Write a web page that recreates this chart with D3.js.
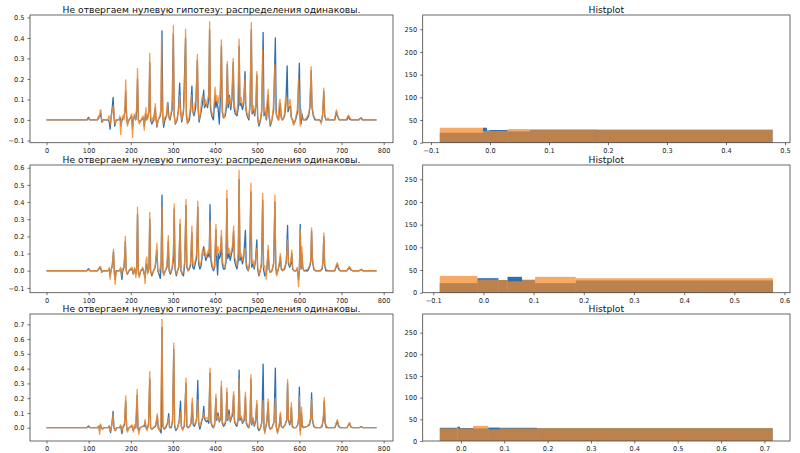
<!DOCTYPE html>
<html><head><meta charset="utf-8">
<script src="https://cdn.jsdelivr.net/npm/d3@7"></script>
<style>
body{margin:0;background:#fff;}
svg{display:block;font-family:"DejaVu Sans",sans-serif;}
</style></head><body>
<svg id="c" width="800" height="453"></svg>
<script>
// ---------- text ----------
const titleLeft = "Не отвергаем нулевую гипотезу: распределения одинаковы.";
const titleRight = "Histplot";

// ---------- tick labels ----------
const lineXTicks = [0,100,200,300,400,500,600,700,800];
const lineYTicks1 = [-0.1,0,0.1,0.2,0.3,0.4,0.5];
const lineYTicks2 = [-0.1,0,0.1,0.2,0.3,0.4,0.5,0.6];
const lineYTicks3 = [0,0.1,0.2,0.3,0.4,0.5,0.6,0.7];
const histXTicks1 = [-0.1,0,0.1,0.2,0.3,0.4,0.5];
const histXTicks2 = [-0.1,0,0.1,0.2,0.3,0.4,0.5,0.6];
const histXTicks3 = [0,0.1,0.2,0.3,0.4,0.5,0.6,0.7];
const histYTicks = [0,50,100,150,200,250];

// ---------- line series: [index, value] ----------
const row1Orange = [[0,0],[96,0],[100,0.004],[104,0],[121,0],[123,0.02],[125,0.01],[127,0.045],[129,0.05],[131,0.0],[133,-0.01],[136,0.0],[146,0.0],[148,0.02],[150,0.01],[152,-0.02],[154,0.02],[157,0.06],[159,0.07],[161,0.0],[163,-0.02],[166,0.0],[172,0.0],[174,0.02],[176,-0.072],[178,0.0],[181,0.02],[184,0.0],[186,0.05],[188,0.195],[190,0.03],[192,-0.03],[195,0.0],[199,0.01],[202,0.03],[204,-0.085],[206,0.0],[208,0.03],[211,0.0],[214,0.06],[216,0.25],[218,0.0],[220,-0.02],[224,0.0],[229,0.02],[232,-0.05],[234,0.02],[236,0.06],[238,0.0],[241,0.01],[243,0.05],[245,0.325],[247,0.02],[249,-0.01],[252,0.01],[256,0.0],[258,0.08],[260,0.01],[262,-0.03],[265,0.0],[269,0.02],[271,0.05],[273,0.40],[275,0.03],[277,-0.02],[280,0.01],[284,0.02],[287,0.085],[289,0.02],[292,0.0],[296,0.04],[299,0.10],[301,0.46],[303,0.03],[305,-0.02],[309,0.0],[313,0.04],[316,0.12],[318,0.04],[321,0.0],[325,0.05],[327,0.1],[330,0.443],[332,0.04],[334,-0.02],[338,0.01],[341,0.05],[344,0.12],[346,0.04],[349,0.03],[352,0.08],[355,0.1],[358,0.32],[360,0.06],[362,0.0],[365,0.03],[368,0.1],[371,0.12],[374,0.07],[377,0.1],[380,0.07],[383,0.11],[385,0.12],[387,0.48],[389,0.08],[391,0.04],[394,0.02],[397,0.05],[400,0.16],[402,0.09],[404,0.12],[407,0.08],[410,0.12],[412,0.11],[415,0.39],[417,0.06],[419,0.02],[422,0.01],[425,0.05],[427,0.08],[429,0.285],[431,0.08],[434,0.11],[437,0.07],[440,0.12],[443,0.30],[445,0.08],[448,0.05],[451,0.03],[454,0.08],[457,0.394],[459,0.09],[462,0.11],[465,0.07],[468,0.09],[471,0.2],[473,0.06],[476,0.03],[480,0.01],[483,0.09],[486,0.475],[488,0.04],[491,0.07],[494,0.03],[497,0.08],[499,0.236],[501,0.02],[503,-0.02],[507,0.0],[510,0.04],[513,0.34],[515,0.03],[518,0.06],[521,0.0],[523,0.08],[526,0.15],[528,0.03],[531,-0.02],[535,0.0],[538,0.06],[542,0.27],[544,0.04],[547,0.02],[550,0.0],[552,0.08],[554,0.1],[556,0.02],[559,0.0],[564,0.02],[567,0.1],[570,0.11],[572,0.05],[575,0.08],[578,0.1],[580,0.02],[583,0.0],[586,-0.025],[590,0.0],[595,0.05],[598,0.2],[600,0.03],[602,-0.03],[604,0.05],[606,0.01],[611,0.0],[617,0.01],[622,0.03],[625,0.07],[628,0.26],[630,0.07],[633,0.03],[636,0.01],[641,0.0],[648,0.0],[652,-0.02],[655,0.03],[658,0.155],[660,0.03],[663,0.0],[668,0.01],[672,0.0],[683,0.0],[686,0.03],[688,0.049],[691,0.02],[695,0.0],[711,0.0],[714,0.015],[717,0.023],[720,0.01],[724,0],[741,0],[744,0.005],[746,0.008],[749,0],[783,0]];
const row1Blue = [[0,0],[96,0],[98,0.008],[100,0.012],[103,0],[121,0],[124,0.01],[127,0.02],[129,0.03],[131,-0.01],[134,0],[146,0],[149,-0.01],[151,-0.045],[153,0.01],[156,0.06],[158,0.11],[160,0.02],[162,-0.03],[165,0],[172,0],[175,0.01],[177,-0.03],[179,0.0],[183,0.01],[186,0.04],[188,0.14],[190,0.02],[192,-0.02],[196,0],[202,0.02],[204,-0.04],[206,0],[209,0.02],[212,0],[214,0.05],[216,0.2],[218,0.0],[221,-0.01],[225,0],[230,0.01],[232,-0.03],[235,0.03],[238,0],[243,0.04],[245,0.28],[247,0.0],[250,-0.02],[254,0],[258,0.06],[260,0.0],[262,-0.035],[265,0],[270,0.02],[272,0.05],[274,0.435],[276,0.02],[278,-0.035],[281,0],[285,0.02],[288,0.085],[290,0.02],[293,0],[298,0.05],[301,0.42],[303,0.02],[306,-0.02],[310,0],[313,0.05],[316,0.18],[318,0.05],[321,-0.01],[325,0.04],[330,0.40],[332,0.02],[335,-0.015],[339,0],[342,0.05],[345,0.165],[347,0.04],[350,0.02],[354,0.06],[358,0.29],[360,0.05],[362,-0.01],[366,0.03],[370,0.08],[373,0.145],[375,0.06],[379,0.08],[382,0.06],[385,0.1],[387,0.44],[389,0.06],[392,0.02],[396,0.0],[400,0.12],[402,0.06],[404,0.09],[407,0.06],[410,-0.02],[412,0.08],[415,0.36],[417,0.04],[420,0.01],[424,0.02],[427,0.06],[429,0.27],[431,0.06],[434,0.12],[437,0.05],[440,0.1],[443,0.28],[445,0.06],[448,0.03],[452,0.02],[455,0.06],[457,0.36],[459,0.07],[462,0.08],[465,0.05],[468,0.08],[471,0.236],[473,0.05],[476,0.02],[480,0],[483,0.07],[486,0.44],[488,0.03],[491,0.05],[494,0.02],[497,0.07],[499,0.22],[501,0.01],[504,-0.03],[508,0],[511,0.05],[514,0.427],[516,0.02],[519,0.04],[522,0],[524,0.06],[526,0.12],[528,0.02],[531,-0.03],[535,0],[539,0.05],[543,0.40],[545,0.03],[548,0.01],[551,0],[553,0.06],[555,0.08],[557,0.01],[560,0],[565,0.02],[568,0.08],[571,0.264],[573,0.04],[576,0.06],[579,0.07],[581,0.01],[584,0],[587,-0.02],[591,0],[596,0.04],[600,0.277],[602,0.02],[604,-0.02],[606,0.03],[609,0.0],[617,0.0],[622,0.02],[625,0.06],[628,0.24],[630,0.06],[633,0.02],[637,0],[648,0],[652,-0.01],[655,0.02],[658,0.14],[660,0.02],[663,0],[684,0],[686,0.02],[688,0.04],[691,0.015],[695,0],[713,0],[716,0.02],[719,0.005],[722,0],[741,0],[744,0.008],[747,0.01],[750,0],[783,0]];

const row2Orange = [[0,0],[96,0],[100,0.005],[104,0],[121,0],[124,0.015],[127,0.025],[129,0.02],[131,-0.01],[134,0],[146,0],[149,0.02],[151,-0.05],[153,0.0],[156,0.03],[159,0.125],[161,-0.02],[163,-0.08],[165,-0.01],[168,0],[173,0],[176,0.02],[178,-0.03],[180,0.01],[183,0.02],[185,0.05],[187,0.20],[189,0.01],[191,-0.02],[195,0],[200,0.015],[203,0.02],[206,-0.02],[209,0.02],[212,-0.04],[214,0.03],[216,0.37],[218,-0.02],[220,-0.04],[223,0],[228,0.02],[231,0.0],[234,-0.075],[236,0.06],[238,0.08],[240,-0.02],[243,0.02],[245,0.34],[247,-0.01],[250,-0.02],[254,0],[258,0.03],[262,0.16],[264,0.0],[267,-0.01],[270,0.02],[272,0.05],[274,0.37],[276,0.0],[278,-0.03],[282,0],[286,0.03],[289,0.205],[291,0.0],[294,-0.01],[298,0.02],[301,0.1],[303,0.39],[305,0.02],[308,-0.02],[311,0],[314,0.03],[317,0.30],[319,0.01],[322,-0.02],[325,0.0],[328,0.06],[331,0.415],[333,0.03],[336,0.0],[339,0.02],[342,0.05],[345,0.26],[347,0.04],[350,0.03],[354,0.07],[356,0.1],[359,0.405],[361,0.06],[364,0.03],[367,0.05],[370,0.12],[372,0.09],[375,0.13],[378,0.08],[381,0.1],[384,0.12],[386,0.1],[388,0.29],[390,0.08],[393,0.04],[396,0.01],[399,0.03],[402,0.27],[404,0.09],[407,0.14],[410,0.1],[413,0.12],[415,0.235],[417,0.06],[420,0.03],[423,0.02],[426,0.08],[428,0.468],[430,0.1],[433,0.13],[436,0.09],[439,0.12],[441,0.14],[444,0.26],[446,0.08],[449,0.06],[452,0.03],[455,0.1],[457,0.585],[459,0.08],[462,0.1],[465,0.06],[468,0.1],[471,0.13],[473,0.05],[476,0.03],[479,0.0],[482,0.06],[485,0.51],[487,0.04],[490,0.06],[493,0.02],[496,0.07],[499,0.13],[501,0.02],[504,-0.02],[507,0],[510,0.05],[513,0.45],[515,0.02],[518,0.03],[521,-0.05],[523,0.02],[526,0.148],[528,0.02],[531,-0.01],[535,0],[539,0.05],[542,0.44],[544,0.03],[546,-0.03],[549,0],[552,0.04],[555,0.10],[557,0.02],[560,0],[565,0.02],[569,0.06],[572,0.18],[574,0.05],[577,0.03],[580,0.06],[582,0.12],[584,0.02],[587,0],[592,0],[595,0.02],[598,-0.093],[600,0.0],[602,0.24],[604,0.01],[606,0.14],[608,0.02],[611,0],[620,0.01],[624,0.03],[627,0.06],[629,0.25],[631,0.07],[634,0.02],[638,0],[650,0],[654,0.02],[656,0.06],[658,0.22],[660,0.04],[663,0.01],[668,0],[684,0],[687,0.03],[690,0.047],[693,0.02],[697,0],[713,0],[716,0.015],[719,0.025],[722,0.01],[726,0],[742,0],[745,0.004],[748,0.006],[751,0],[783,0]];
const row2Blue = [[0,0],[96,0],[98,0.008],[100,0.012],[103,0],[121,0],[124,0.01],[127,0.02],[129,0.01],[131,-0.01],[134,0],[146,0],[149,0.01],[151,-0.03],[153,0.0],[156,0.03],[159,0.11],[161,-0.01],[163,-0.05],[165,0],[173,0],[176,0.01],[179,-0.05],[181,0],[184,0.02],[187,0.17],[189,0.0],[192,-0.02],[196,0],[203,0.01],[206,-0.02],[209,0.01],[212,-0.02],[214,0.02],[216,0.33],[218,-0.01],[220,-0.03],[224,0],[229,0.01],[234,-0.04],[236,0.03],[238,0.04],[240,-0.01],[243,0.01],[245,0.3],[247,0],[250,-0.03],[254,0],[258,0.02],[262,0.12],[264,0],[267,-0.02],[270,-0.045],[272,0.04],[274,0.44],[276,0.0],[278,-0.02],[282,0],[286,0.02],[289,0.17],[291,0],[294,-0.02],[298,0.01],[301,0.06],[303,0.36],[305,0.01],[308,-0.03],[311,0],[314,0.02],[317,0.27],[319,0],[322,-0.02],[325,-0.03],[328,0.04],[331,0.38],[333,0.02],[336,0],[339,0.01],[342,0.03],[345,0.22],[347,0.02],[350,0.01],[354,0.05],[356,0.07],[359,0.37],[361,0.04],[364,0.01],[367,0.03],[370,0.1],[373,0.14],[375,0.1],[378,0.06],[381,0.08],[384,0.1],[386,0.08],[388,0.385],[390,0.06],[393,0.02],[396,0],[399,0.02],[402,0.24],[404,0.06],[406,-0.025],[408,0.1],[410,0.07],[413,0.09],[415,0.2],[417,0.04],[420,0.01],[423,0.01],[426,0.05],[428,0.42],[430,0.07],[433,0.1],[436,0.06],[439,0.1],[441,0.12],[444,0.23],[446,0.06],[449,0.03],[452,0.01],[455,0.06],[457,0.53],[459,0.06],[462,0.08],[465,0.04],[468,0.08],[472,0.235],[474,0.03],[476,0.01],[479,0],[482,0.04],[485,0.46],[487,0.02],[490,0.04],[493,0.01],[496,0.06],[499,0.18],[501,0.01],[504,-0.03],[507,0],[510,0.03],[513,0.41],[515,0.01],[518,-0.03],[521,-0.02],[523,0.01],[526,0.12],[528,0.01],[531,-0.01],[535,0],[539,0.04],[542,0.40],[544,0.02],[546,-0.02],[549,0],[552,0.03],[555,0.08],[557,0.01],[560,0],[565,0.01],[569,0.05],[572,0.264],[574,0.04],[577,0.02],[580,0.04],[582,0.1],[584,0.01],[587,0],[592,0],[595,0.01],[598,-0.05],[600,0.0],[602,0.27],[604,0.01],[606,0.1],[608,0.02],[611,0],[620,0],[624,0.02],[627,0.05],[629,0.23],[631,0.06],[634,0.01],[638,0],[650,0],[654,0.01],[656,0.05],[658,0.2],[660,0.03],[663,0],[684,0],[687,0.02],[690,0.04],[693,0.01],[697,0],[713,0],[716,0.01],[719,0.02],[722,0.005],[726,0],[742,0],[745,0.006],[748,0.008],[751,0],[783,0]];

const row3Orange = [[0,0],[96,0],[100,0.004],[104,0],[121,0],[124,0.01],[126,-0.045],[128,0.025],[130,0.0],[133,-0.01],[136,0],[146,0],[149,0.015],[152,-0.02],[155,0.02],[158,0.09],[160,0.0],[163,-0.02],[166,0],[173,0],[176,0.02],[179,-0.02],[181,0.01],[185,0.03],[188,0.215],[190,0.01],[192,-0.03],[196,0],[203,0.02],[206,-0.03],[209,0.02],[212,0],[215,0.26],[217,0.0],[219,-0.045],[222,0],[229,0.01],[232,0.02],[234,0.057],[236,0.0],[239,-0.02],[242,0.03],[245,0.38],[247,0.0],[250,-0.01],[254,0],[259,0.02],[263,0.095],[265,0],[268,-0.02],[271,0.03],[274,0.733],[276,0.02],[279,-0.01],[283,0.01],[287,0.03],[290,0.07],[292,0.0],[296,0.01],[299,0.05],[302,0.573],[304,0.02],[307,-0.01],[311,0],[315,0.04],[318,0.105],[320,0.01],[323,-0.02],[327,0.02],[331,0.336],[333,0.02],[336,0],[340,0.01],[343,0.04],[346,0.2],[348,0.03],[351,0.02],[354,0.04],[356,0.05],[359,0.19],[361,0.04],[364,0.01],[368,0.05],[371,0.08],[373,0.1],[375,0.07],[379,0.06],[382,0.07],[385,0.05],[388,0.404],[390,0.05],[393,0.02],[396,0],[399,0.03],[402,0.228],[404,0.06],[407,0.08],[410,0.05],[413,0.07],[415,0.316],[417,0.04],[420,0.02],[423,0.03],[426,0.06],[428,0.27],[430,0.06],[433,0.09],[436,0.05],[439,0.08],[441,0.1],[444,0.245],[446,0.05],[449,0.03],[452,0.02],[455,0.07],[457,0.33],[459,0.06],[462,0.08],[465,0.04],[469,0.06],[472,0.24],[474,0.04],[477,0.02],[480,0],[483,0.05],[485,0.36],[487,0.03],[490,0.07],[493,0.02],[496,0.05],[499,0.185],[501,0.01],[504,-0.01],[508,0],[511,0.04],[514,0.185],[516,0.0],[518,-0.04],[521,0.02],[523,0.05],[526,0.195],[528,0.02],[531,-0.01],[535,0],[540,0.04],[543,0.2],[545,0.01],[548,-0.04],[551,0.0],[553,0.04],[555,0.105],[557,0.01],[561,0],[566,0.02],[570,0.06],[572,0.325],[574,0.06],[577,0.03],[579,0.05],[581,0.17],[583,0.02],[586,0],[592,0],[596,0.02],[598,0.06],[600,0.21],[602,-0.05],[604,0.03],[605,0.14],[607,0.02],[610,0],[619,0.01],[624,0.03],[627,0.07],[629,0.19],[631,0.06],[634,0.02],[638,0],[650,0],[654,0.02],[657,0.08],[659,0.203],[661,0.04],[664,0.01],[669,0],[684,0],[687,0.03],[690,0.054],[693,0.02],[697,0],[713,0],[716,0.02],[719,0.035],[722,0.01],[726,0],[742,0],[745,0.004],[748,0.005],[751,0],[783,0]];
const row3Blue = [[0,0],[96,0],[98,0.008],[100,0.012],[103,0],[121,0],[124,0.01],[126,-0.02],[128,0.02],[130,0],[133,-0.01],[136,0],[146,0],[149,0.01],[152,-0.034],[155,0.02],[158,0.11],[160,0],[163,-0.02],[166,0],[173,0],[176,0.01],[179,-0.04],[181,0],[185,0.02],[188,0.18],[190,0.01],[192,-0.02],[196,0],[203,0.01],[206,-0.02],[209,0.01],[212,0],[215,0.22],[217,0],[219,-0.02],[222,0],[229,0.01],[232,0.01],[234,0.04],[236,0],[239,-0.01],[242,0.02],[245,0.33],[247,0],[250,-0.01],[254,0],[259,0.01],[263,0.08],[265,0],[268,-0.01],[272,-0.035],[274,0.68],[276,0.01],[279,-0.01],[283,0],[287,0.03],[290,0.095],[292,0],[296,0],[299,0.04],[302,0.53],[304,0.01],[307,-0.02],[311,0],[315,0.05],[318,0.18],[320,0.01],[323,-0.01],[327,0.01],[331,0.3],[333,0.01],[336,0],[340,0.01],[343,0.03],[346,0.17],[348,0.02],[351,0.01],[354,0.03],[356,0.06],[359,0.32],[361,0.03],[364,-0.01],[368,0.04],[371,0.07],[373,0.145],[375,0.06],[379,0.04],[382,0.05],[385,0.03],[388,0.37],[390,0.04],[393,0.01],[396,0],[399,0.02],[402,0.2],[404,0.05],[407,0.1],[410,0.04],[413,0.06],[415,0.28],[417,0.03],[420,0.01],[423,0.02],[426,0.05],[428,0.24],[430,0.05],[433,0.12],[436,0.04],[439,0.07],[441,0.08],[444,0.22],[446,0.04],[449,0.02],[452,0.01],[455,0.06],[457,0.39],[459,0.05],[462,0.07],[465,0.03],[469,0.05],[472,0.21],[474,0.03],[477,0.01],[480,0],[483,0.04],[485,0.33],[487,0.02],[490,0.06],[493,0.01],[496,0.04],[499,0.16],[501,0],[504,-0.02],[508,0],[511,0.04],[514,0.43],[516,0],[518,-0.03],[521,0.01],[523,0.04],[526,0.17],[528,0.01],[531,-0.01],[535,0],[540,0.04],[543,0.404],[545,0.01],[548,-0.03],[551,0],[553,0.03],[555,0.09],[557,0.01],[561,0],[566,0.02],[570,0.05],[572,0.3],[574,0.05],[577,0.02],[579,0.04],[581,0.14],[583,0.01],[586,0],[592,0],[596,0.02],[598,0.05],[600,0.275],[602,-0.02],[604,0.02],[605,0.1],[607,0.01],[610,0],[619,0.01],[624,0.02],[627,0.06],[629,0.235],[631,0.05],[634,0.01],[638,0],[650,0],[654,0.01],[657,0.06],[659,0.18],[661,0.03],[664,0],[669,0],[684,0],[687,0.02],[690,0.045],[693,0.01],[697,0],[713,0],[716,0.015],[719,0.03],[722,0.005],[726,0],[742,0],[745,0.005],[748,0.006],[751,0],[783,0]];

// ---------- histogram bins: [x0, x1, count] ----------
const hist1Blue = [[-0.085,-0.012,22],[-0.012,-0.005,33],[-0.005,0.0,27],[0.0,0.03,28],[0.03,0.068,25],[0.068,0.479,28.5]];
const hist1Orange = [[-0.085,-0.012,33],[-0.012,0.03,26],[0.03,0.068,30],[0.068,0.18,29.3],[0.18,0.479,28.5]];
const hist2Blue = [[-0.087,-0.012,21],[-0.012,0.03,32],[0.03,0.048,28],[0.048,0.077,35],[0.077,0.103,28],[0.103,0.184,21],[0.184,0.577,27]];
const hist2Orange = [[-0.087,-0.012,37],[-0.012,0.03,29],[0.03,0.048,28],[0.048,0.077,25],[0.077,0.103,29],[0.103,0.184,35],[0.184,0.577,32]];
const hist3Blue = [[-0.0485,-0.008,30.5],[-0.008,-0.002,33],[-0.002,0.028,30],[0.028,0.063,29],[0.063,0.09,31],[0.09,0.176,30.5],[0.176,0.719,29.5]];
const hist3Orange = [[-0.0485,0.028,29],[0.028,0.063,35],[0.063,0.09,27],[0.09,0.176,29],[0.176,0.719,29.5]];

// ---------- layout ----------
const L = {x0:30, x1:393}, R = {x0:422.7, x1:790};
const rows = [
  {top:15, bottom:142.7, blue:row1Blue, orange:row1Orange, yDom:[-0.111,0.512], yTicks:lineYTicks1,
   hBlue:hist1Blue, hOrange:hist1Orange, hxDom:[-0.114,0.5085], hxTicks:histXTicks1, hyMax:281.5},
  {top:165, bottom:292.7, blue:row2Blue, orange:row2Orange, yDom:[-0.128,0.616], yTicks:lineYTicks2,
   hBlue:hist2Blue, hOrange:hist2Orange, hxDom:[-0.121,0.611], hxTicks:histXTicks2, hyMax:281.5},
  {top:314, bottom:441, blue:row3Blue, orange:row3Orange, yDom:[-0.090,0.770], yTicks:lineYTicks3,
   hBlue:hist3Blue, hOrange:hist3Orange, hxDom:[-0.088,0.759], hxTicks:histXTicks3, hyMax:293}
];

const BLUE = "#2e6fae", ORANGE = "#f3892a";
const svg = d3.select("#c");
const fmt1 = d3.format(".1f");

function styleAxis(g){
  g.select(".domain").remove();
  g.selectAll(".tick line").attr("stroke","#333").attr("stroke-width",0.7);
  g.selectAll(".tick text").attr("fill","#222").style("font-size","6.6px").style("font-family","DejaVu Sans, sans-serif");
}
function frame(x0,x1,top,bottom){
  svg.append("rect").attr("x",x0).attr("y",top).attr("width",x1-x0).attr("height",bottom-top)
    .attr("fill","none").attr("stroke","#444").attr("stroke-width",0.8);
}
function title(text,cx,top){
  svg.append("text").attr("x",cx).attr("y",top-2).attr("text-anchor","middle")
    .style("font-size","9.2px").attr("fill","#111").text(text);
}

rows.forEach(r=>{
  // ---- left: line plot ----
  const x = d3.scaleLinear().domain([-39.15,822.15]).range([L.x0,L.x1]);
  const y = d3.scaleLinear().domain(r.yDom).range([r.bottom,r.top]);
  const line = d3.line().x(d=>x(d[0])).y(d=>y(d[1]));
  const gl = svg.append("g");
  gl.append("path").datum(r.blue).attr("d",line).attr("fill","none").attr("stroke",BLUE)
    .attr("stroke-width",1.3).attr("stroke-linejoin","round");
  gl.append("path").datum(r.orange).attr("d",line).attr("fill","none").attr("stroke",ORANGE)
    .attr("stroke-opacity",0.85).attr("stroke-width",1.3).attr("stroke-linejoin","round");
  frame(L.x0,L.x1,r.top,r.bottom);
  svg.append("g").attr("transform",`translate(0,${r.bottom})`)
    .call(d3.axisBottom(x).tickValues(lineXTicks).tickSize(2.5).tickPadding(3).tickFormat(d3.format("d"))).call(styleAxis);
  svg.append("g").attr("transform",`translate(${L.x0},0)`)
    .call(d3.axisLeft(y).tickValues(r.yTicks).tickSize(2.5).tickPadding(3).tickFormat(fmt1)).call(styleAxis);

  // ---- right: histogram ----
  const hx = d3.scaleLinear().domain(r.hxDom).range([R.x0,R.x1]);
  const hy = d3.scaleLinear().domain([0,r.hyMax]).range([r.bottom,r.top]);
  const gh = svg.append("g");
  gh.selectAll("rect.b").data(r.hBlue).join("rect").attr("class","b")
    .attr("x",d=>hx(d[0])).attr("width",d=>hx(d[1])-hx(d[0]))
    .attr("y",d=>hy(d[2])).attr("height",d=>hy(0)-hy(d[2])).attr("fill",BLUE);
  gh.selectAll("rect.o").data(r.hOrange).join("rect").attr("class","o")
    .attr("x",d=>hx(d[0])).attr("width",d=>hx(d[1])-hx(d[0]))
    .attr("y",d=>hy(d[2])).attr("height",d=>hy(0)-hy(d[2])).attr("fill",ORANGE).attr("fill-opacity",0.72);
  frame(R.x0,R.x1,r.top,r.bottom);
  svg.append("g").attr("transform",`translate(0,${r.bottom})`)
    .call(d3.axisBottom(hx).tickValues(r.hxTicks).tickSize(2.5).tickPadding(3).tickFormat(fmt1)).call(styleAxis);
  svg.append("g").attr("transform",`translate(${R.x0},0)`)
    .call(d3.axisLeft(hy).tickValues(histYTicks).tickSize(2.5).tickPadding(3).tickFormat(d3.format("d"))).call(styleAxis);

  title(titleLeft,(L.x0+L.x1)/2,r.top);
  title(titleRight,(R.x0+R.x1)/2,r.top);
});
</script>
</body></html>
